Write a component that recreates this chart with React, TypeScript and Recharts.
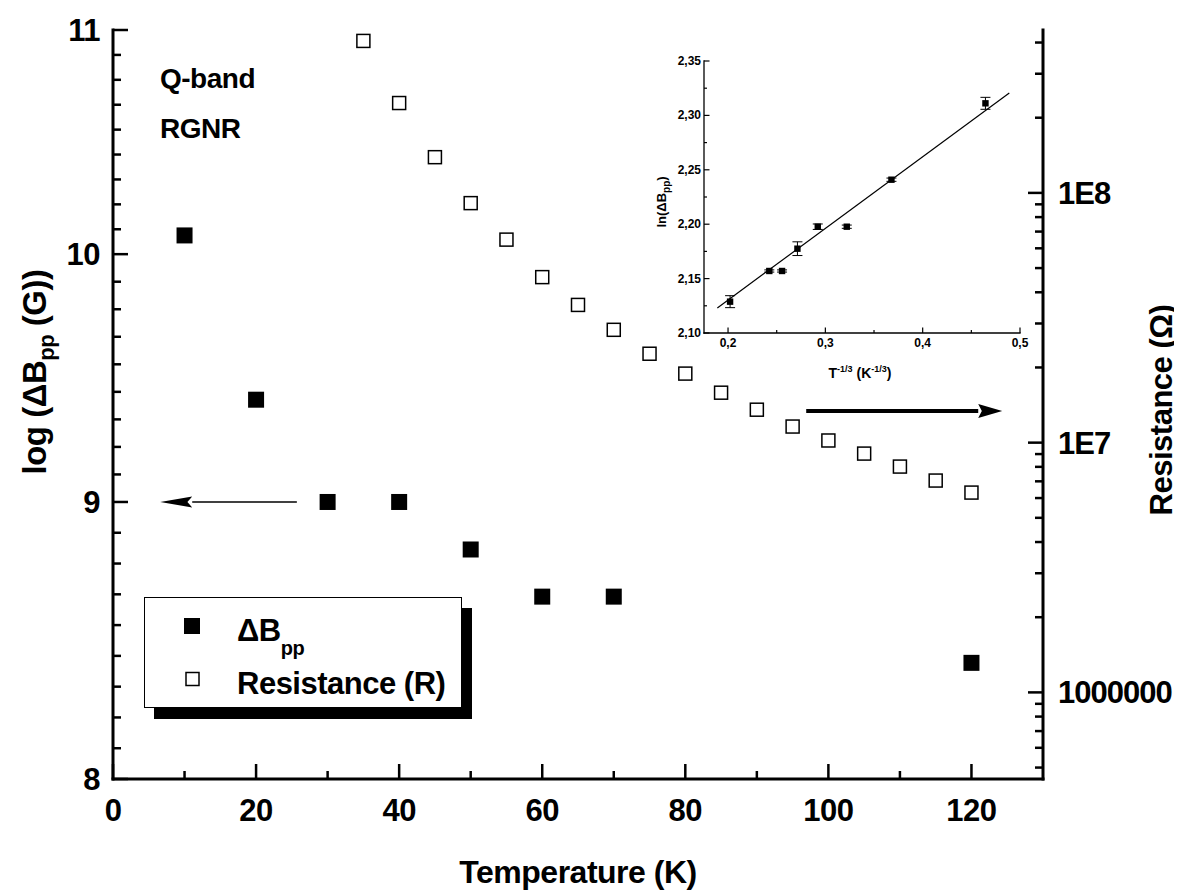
import React from 'react';
import { ScatterChart, Scatter, XAxis, YAxis, ReferenceLine, Legend, ErrorBar } from 'recharts';

const FONT = '"Liberation Sans", Arial, Helvetica, sans-serif';

// ---------- main chart data ----------
const dbTemps = [10, 20, 30, 40, 50, 60, 70, 120];
const dbValues = [10.08, 9.4, 9.0, 9.0, 8.82, 8.645, 8.645, 8.405];

const resTemps = [35, 40, 45, 50, 55, 60, 65, 70, 75, 80, 85, 90, 95, 100, 105, 110, 115, 120];
const resValues = [
  4.06e8, 2.29e8, 1.39e8, 9.1e7, 6.5e7, 4.6e7, 3.56e7, 2.83e7, 2.27e7, 1.89e7,
  1.585e7, 1.355e7, 1.16e7, 1.02e7, 9.04e6, 8.02e6, 7.05e6, 6.31e6,
];

const seriesNames = ['ΔBpp', 'Resistance (R)'];

// ---------- main axes ----------
const tempDomain = [0, 130];
const tempTicks = [0, 10, 20, 30, 40, 50, 60, 70, 80, 90, 100, 110, 120];
const tempMajor = [0, 20, 40, 60, 80, 100, 120];

const logBDomain = [8, 11];
const logBMajor = [8, 9, 10, 11];

const resDomain = [4.5e5, 4.49e8];
const resMajor = [1e6, 1e7, 1e8];
const resMajorLabels = ['1000000', '1E7', '1E8'];
const resDecades = [1e5, 1e6, 1e7, 1e8];
const resMultipliers = [1, 2, 3, 4, 5, 6, 7, 8, 9];

// arrows (annotation): from, to, level
const leftArrow = { from: 25.7, to: 6.6, level: 9 };
const rightArrow = { from: 96.9, to: 124.3, level: 1.34e7 };

// ---------- inset data ----------
const insetX = [0.2021, 0.2424, 0.2555, 0.2713, 0.2922, 0.322, 0.3679, 0.4645];
const insetY = [2.1288, 2.157, 2.157, 2.1775, 2.1977, 2.1977, 2.2409, 2.3111];
const insetErr = [0.0055, 0.001, 0.001, 0.0063, 0.0025, 0.0015, 0.0015, 0.0055];
const fitX = [0.189, 0.489];
const fitY = [2.123, 2.3206];

const insetXDomain = [0.1753, 0.5];
const insetXTicks = [0.2, 0.25, 0.3, 0.35, 0.4, 0.45, 0.5];
const insetXMajor = [0.2, 0.3, 0.4, 0.5];
const insetYDomain = [2.1, 2.35];
const insetYTicks = [2.1, 2.125, 2.15, 2.175, 2.2, 2.225, 2.25, 2.275, 2.3, 2.325, 2.35];
const insetYMajor = [2.1, 2.15, 2.2, 2.25, 2.3, 2.35];

// ---------- derived tables ----------
const dbData = dbTemps.map((t, i) => ({ x: t, y: dbValues[i] }));
const resData = resTemps.map((t, i) => ({ x: t, y: resValues[i] }));
const insetData = insetX.map((x, i) => ({ x, y: insetY[i], err: insetErr[i] }));
const fitData = fitX.map((x, i) => ({ x, y: fitY[i] }));

const logBTicks: number[] = [];
logBMajor.forEach((m, i) => {
  logBTicks.push(m);
  if (i < logBMajor.length - 1) {
    const a = Math.log10(m);
    const b = Math.log10(logBMajor[i + 1]);
    for (let k = 1; k <= 8; k++) logBTicks.push(Math.pow(10, a + (k / 9) * (b - a)));
  }
});

const resTicks: number[] = [];
resDecades.forEach((d) =>
  resMultipliers.forEach((m) => {
    const v = d * m;
    if (v >= resDomain[0] && v <= resDomain[1]) resTicks.push(v);
  })
);

const isIn = (v: number, list: number[]) =>
  list.some((m) => Math.abs(m - v) <= 1e-7 * Math.max(1, Math.abs(m)));

type TickCfg = {
  side: 'left' | 'right' | 'top' | 'bottom';
  majors: number[];
  label?: (v: number) => string | null;
  majorLen: number;
  minorLen: number;
  sw: number;
  fontSize?: number;
  gap?: number;
  base?: number;
  letterSpacing?: number;
};

function makeTick(cfg: TickCfg) {
  return (props: any) => {
    const { x, y, payload } = props;
    const v = payload.value;
    const major = isIn(v, cfg.majors);
    const len = major ? cfg.majorLen : cfg.minorLen;
    let x2 = x;
    let y2 = y;
    if (cfg.side === 'left') x2 = x + len;
    if (cfg.side === 'right') x2 = x - len;
    if (cfg.side === 'bottom') y2 = y - len;
    if (cfg.side === 'top') y2 = y + len;
    const text = major && cfg.label ? cfg.label(v) : null;
    let tx = x;
    let ty = y;
    let anchor: 'start' | 'middle' | 'end' = 'middle';
    const gap = cfg.gap || 0;
    const base = cfg.base || 0;
    if (cfg.side === 'left') { tx = x - gap; ty = y + base; anchor = 'end'; }
    if (cfg.side === 'right') { tx = x + gap; ty = y + base; anchor = 'start'; }
    if (cfg.side === 'bottom') { tx = x; ty = y + gap; anchor = 'middle'; }
    return (
      <g>
        <line x1={x} y1={y} x2={x2} y2={y2} stroke="#000" strokeWidth={cfg.sw} />
        {text !== null && (
          <text
            x={tx}
            y={ty}
            textAnchor={anchor}
            fontFamily={FONT}
            fontWeight="bold"
            fontSize={cfg.fontSize}
            letterSpacing={cfg.letterSpacing || 0}
            fill="#000"
          >
            {text}
          </text>
        )}
      </g>
    );
  };
}

const bottomTick = makeTick({ side: 'bottom', majors: tempMajor, label: (v) => String(v), majorLen: 15, minorLen: 8, sw: 2.5, fontSize: 31, gap: 42, letterSpacing: -0.5 });
const topTick = makeTick({ side: 'top', majors: tempMajor, majorLen: 15, minorLen: 8, sw: 2.5 });
const leftTick = makeTick({ side: 'left', majors: logBMajor, label: (v) => String(Math.round(v)), majorLen: 15, minorLen: 8, sw: 2.5, fontSize: 31, gap: 13, base: 11, letterSpacing: -0.5 });
const rightTick = makeTick({
  side: 'right', majors: resMajor,
  label: (v) => { const i = resMajor.findIndex((m) => Math.abs(m - v) < 1e-3 * m); return i >= 0 ? resMajorLabels[i] : null; },
  majorLen: 15, minorLen: 8, sw: 2.5, fontSize: 31, gap: 15, base: 11, letterSpacing: -1,
});

const inBottomTick = makeTick({ side: 'bottom', majors: insetXMajor, label: (v) => v.toFixed(1).replace('.', ','), majorLen: 5.5, minorLen: 3, sw: 1.2, fontSize: 12, gap: 14 });
const inTopTick = makeTick({ side: 'top', majors: insetXMajor, majorLen: 5.5, minorLen: 3, sw: 1.2 });
const inLeftTick = makeTick({ side: 'left', majors: insetYMajor, label: (v) => v.toFixed(2).replace('.', ','), majorLen: 5.5, minorLen: 3, sw: 1.2, fontSize: 12, gap: 3, base: 4 });
const inRightTick = makeTick({ side: 'right', majors: insetYMajor, majorLen: 5.5, minorLen: 3, sw: 1.2 });

const AXIS_LINE = { stroke: '#000', strokeWidth: 3, strokeLinecap: 'square' as const };
const IN_AXIS_LINE = { stroke: '#000', strokeWidth: 1.3, strokeLinecap: 'square' as const };

const filledSquare = (p: any) => (
  <rect x={p.cx - 8} y={p.cy - 8} width={16} height={16} fill="#000" />
);
const hollowSquare = (p: any) => (
  <rect x={p.cx - 6.5} y={p.cy - 6.5} width={13} height={13} fill="#fff" stroke="#000" strokeWidth={1.5} />
);
const smallSquare = (p: any) => (
  <rect x={p.cx - 3.2} y={p.cy - 3.2} width={6.4} height={6.4} fill="#000" />
);
const noShape = () => <g />;

function arrowShape(sw: number, head: number, half: number) {
  return (p: any) => {
    const { x1, y1, x2, y2 } = p;
    const dir = x2 > x1 ? 1 : -1;
    const baseX = x2 - dir * head;
    return (
      <g>
        <line x1={x1} y1={y1} x2={baseX} y2={y2} stroke="#000" strokeWidth={sw} />
        <polygon points={`${x2},${y2} ${baseX},${y2 - half} ${baseX + dir * head * 0.15},${y2} ${baseX},${y2 + half}`} fill="#000" />
      </g>
    );
  };
}

const renderLegend = (props: any) => {
  const payload = [...(props.payload || [])].sort(
    (a: any, b: any) => seriesNames.indexOf(a.value) - seriesNames.indexOf(b.value)
  );
  return (
    <div
      style={{
        position: 'relative', width: 318, height: 111, boxSizing: 'border-box',
        border: '1.5px solid #000', background: '#fff', boxShadow: '10px 11px 0 0 #000',
      }}
    >
      <svg width={318} height={111} style={{ position: 'absolute', left: -1.5, top: -1.5 }}>
        {payload.map((entry: any, i: number) => {
          const cy = i === 0 ? 29 : 82;
          const isDb = entry.value === seriesNames[0];
          return (
            <g key={i}>
              {isDb ? (
                <rect x={40} y={cy - 8} width={16} height={16} fill="#000" />
              ) : (
                <rect x={42} y={cy - 6.5} width={13} height={13} fill="#fff" stroke="#000" strokeWidth={1.5} />
              )}
              <text x={93} y={cy + 15} fontFamily={FONT} fontWeight="bold" fontSize={31} fill="#000" letterSpacing={-0.5}>
                {isDb ? (
                  <>
                    <tspan>ΔB</tspan>
                    <tspan fontSize={20} dy={14}>pp</tspan>
                  </>
                ) : (
                  entry.value
                )}
              </text>
            </g>
          );
        })}
      </svg>
    </div>
  );
};

export default function App() {
  const W = 1174;
  const H = 887;
  return (
    <div style={{ position: 'relative', width: W, height: H, background: '#fff', fontFamily: FONT }}>
      <ScatterChart width={W} height={H} margin={{ top: 22, right: 0, bottom: 0, left: 0 }}>
        <XAxis xAxisId="b" dataKey="x" type="number" domain={tempDomain} allowDataOverflow ticks={tempTicks} interval={0}
          height={116} tickSize={0} tickMargin={0} tickLine={false} axisLine={AXIS_LINE} tick={bottomTick} />
        <XAxis xAxisId="t" orientation="top" dataKey="x" type="number" domain={tempDomain} allowDataOverflow ticks={tempTicks} interval={0}
          height={0} tickSize={0} tickMargin={0} tickLine={false} axisLine={AXIS_LINE} tick={topTick} />
        <YAxis yAxisId="l" dataKey="y" type="number" scale="log" domain={logBDomain} allowDataOverflow ticks={logBTicks} interval={0}
          width={105} tickSize={0} tickMargin={0} tickLine={false} axisLine={AXIS_LINE} tick={leftTick} />
        <YAxis yAxisId="r" orientation="right" dataKey="y" type="number" scale="log" domain={resDomain} allowDataOverflow ticks={resTicks} interval={0}
          width={139} tickSize={0} tickMargin={0} tickLine={false} axisLine={AXIS_LINE} tick={rightTick} />
        <Scatter name={seriesNames[0]} data={dbData} xAxisId="b" yAxisId="l" fill="#000" shape={filledSquare} isAnimationActive={false} />
        <Scatter name={seriesNames[1]} data={resData} xAxisId="t" yAxisId="r" fill="#fff" stroke="#000" shape={hollowSquare} isAnimationActive={false} />
        <ReferenceLine xAxisId="b" yAxisId="l"
          segment={[{ x: leftArrow.from, y: leftArrow.level }, { x: leftArrow.to, y: leftArrow.level }]}
          shape={arrowShape(1.5, 32, 5.5)} />
        <ReferenceLine xAxisId="t" yAxisId="r"
          segment={[{ x: rightArrow.from, y: rightArrow.level }, { x: rightArrow.to, y: rightArrow.level }]}
          shape={arrowShape(4, 24, 7)} />
        <Legend layout="vertical" align="center" verticalAlign="middle" content={renderLegend}
          wrapperStyle={{ position: 'absolute', left: 136, top: 589, width: 318, height: 111 }} />
      </ScatterChart>

      <svg width={W} height={H} style={{ position: 'absolute', left: 0, top: 0, pointerEvents: 'none' }}>
        <text x={570} y={875} textAnchor="middle" fontFamily={FONT} fontWeight="bold" fontSize={32} letterSpacing={-0.5}>
          Temperature (K)
        </text>
        <text transform="translate(38,364) rotate(-90)" textAnchor="middle" fontFamily={FONT} fontWeight="bold" fontSize={33} letterSpacing={-0.5}>
          <tspan>log (ΔB</tspan>
          <tspan fontSize={22} dy={8}>pp</tspan>
          <tspan dy={-8}> (G))</tspan>
        </text>
        <text transform="translate(1164,402) rotate(-90)" textAnchor="middle" fontFamily={FONT} fontWeight="bold" fontSize={31} letterSpacing={-0.5}>
          Resistance (Ω)
        </text>
        <text x={152} y={80} fontFamily={FONT} fontWeight="bold" fontSize={28} letterSpacing={-0.5}>Q-band</text>
        <text x={152} y={130} fontFamily={FONT} fontWeight="bold" fontSize={28} letterSpacing={-0.5}>RGNR</text>
      </svg>

      <div style={{ position: 'absolute', left: 632, top: 42, width: 400, height: 345 }}>
        <ScatterChart width={400} height={345} margin={{ top: 11, right: 20, bottom: 0, left: 0 }}>
          <XAxis xAxisId="b" dataKey="x" type="number" domain={insetXDomain} allowDataOverflow ticks={insetXTicks} interval={0}
            height={62} tickSize={0} tickMargin={0} tickLine={false} axisLine={IN_AXIS_LINE} tick={inBottomTick} />
          <XAxis xAxisId="t" orientation="top" dataKey="x" type="number" domain={insetXDomain} allowDataOverflow ticks={insetXTicks} interval={0}
            height={0} tickSize={0} tickMargin={0} tickLine={false} axisLine={IN_AXIS_LINE} tick={inTopTick} />
          <YAxis yAxisId="l" dataKey="y" type="number" domain={insetYDomain} allowDataOverflow ticks={insetYTicks} interval={0}
            width={64} tickSize={0} tickMargin={0} tickLine={false} axisLine={IN_AXIS_LINE} tick={inLeftTick} />
          <YAxis yAxisId="r" orientation="right" dataKey="y" type="number" domain={insetYDomain} allowDataOverflow ticks={insetYTicks} interval={0}
            width={0} tickSize={0} tickMargin={0} tickLine={false} axisLine={IN_AXIS_LINE} tick={inRightTick} />
          <Scatter data={fitData} xAxisId="t" yAxisId="r" line={{ stroke: '#000', strokeWidth: 1.2 }} shape={noShape} isAnimationActive={false} />
          <Scatter data={insetData} xAxisId="b" yAxisId="l" fill="#000" shape={smallSquare} isAnimationActive={false}>
            <ErrorBar dataKey="err" direction="y" width={5} stroke="#000" strokeWidth={1} />
          </Scatter>
        </ScatterChart>
        <svg width={400} height={345} style={{ position: 'absolute', left: 0, top: 0, pointerEvents: 'none' }}>
          <text x={220} y={328} textAnchor="middle" fontFamily={FONT} fontWeight="bold" fontSize={14}>
            <tspan>T</tspan>
            <tspan fontSize={9} dy={-6}>-1/3</tspan>
            <tspan dy={6}> (K</tspan>
            <tspan fontSize={9} dy={-6}>-1/3</tspan>
            <tspan dy={6}>)</tspan>
          </text>
          <text transform="translate(26,152) rotate(-90)" textAnchor="middle" fontFamily={FONT} fontWeight="bold" fontSize={13}>
            <tspan>ln(ΔB</tspan>
            <tspan fontSize={10} dy={4}>pp</tspan>
            <tspan dy={-4}>)</tspan>
          </text>
        </svg>
      </div>
    </div>
  );
}
